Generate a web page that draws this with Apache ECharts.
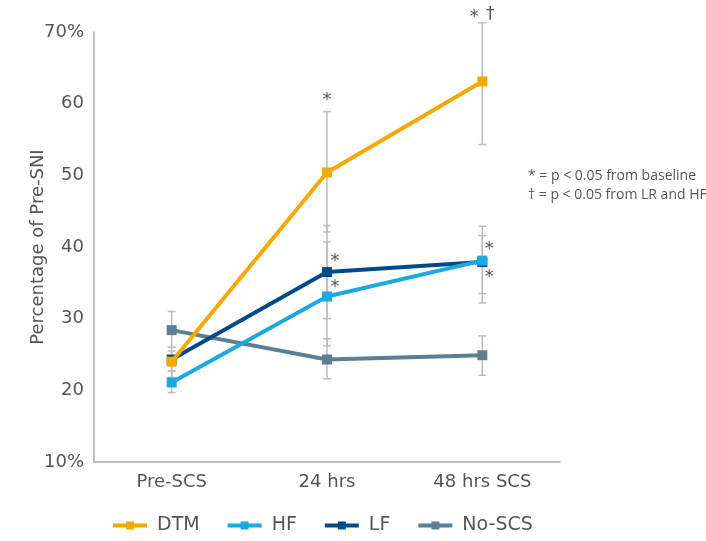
<!DOCTYPE html>
<html>
<head>
<meta charset="utf-8">
<title>Percentage of Pre-SNI</title>
<script src="https://cdn.jsdelivr.net/npm/echarts@6/dist/echarts.min.js"></script>
<style>
  html, body { margin: 0; padding: 0; background: #fff; }
  #chart { width: 706px; height: 541px; }
</style>
</head>
<body>
<div id="chart"></div>
<script>
// categories along the x axis
const categories = ['Pre-SCS', '24 hrs', '48 hrs SCS'];

// mean values (% of pre-SNI)
const dtm = [24.0, 50.4, 63.1];
const hf = [21.1, 33.1, 38.1];
const lf = [24.3, 36.5, 37.9];
const noScs = [28.4, 24.3, 24.9];

// error bar ends [low, high]
const dtmErr = [[21.8, 25.5], [42.1, 58.9], [54.3, 71.3]];
const hfErr = [[19.7, 22.7], [26.2, 40.7], [33.5, 42.9]];
const lfErr = [[22.7, 26.0], [30.0, 43.0], [32.2, 41.6]];
const noScsErr = [[26.0, 31.0], [21.6, 27.2], [22.1, 27.6]];

// significance marks: [category index, value, symbol]
const marks = [
  [1, 60.4, '*'],
  [1, 38.0, '*'],
  [1, 34.4, '*'],
  [2, 72.0, '*'],
  [2, 72.4, '†'],
  [2, 39.7, '*'],
  [2, 35.8, '*']
];
const markShift = [0, 8, 8, -8, 8, 7, 7];

const yTicks = [10, 20, 30, 40, 50, 60, 70];

const FONT = '"DejaVu Sans", sans-serif';
const TEXT = '#555';

const chart = echarts.init(document.getElementById('chart'));

const legendOrder = ['DTM', 'HF', 'LF', 'No-SCS'];
// drawn back to front, DTM on top
const seriesDefs = [
  { name: 'No-SCS', data: noScs, err: noScsErr, color: '#5b7f95' },
  { name: 'LF', data: lf, err: lfErr, color: '#004b87' },
  { name: 'HF', data: hf, err: hfErr, color: '#1aa9e1' },
  { name: 'DTM', data: dtm, err: dtmErr, color: '#f5a800' }
];

function errorBars(params, api) {
  const cat = api.value(0);
  const top = api.coord([cat, api.value(2)]);
  const bottom = api.coord([cat, api.value(1)]);
  const half = 4;
  const style = { stroke: '#bdbdbd', lineWidth: 1.5 };
  return {
    type: 'group',
    children: [
      { type: 'line', shape: { x1: top[0], y1: top[1], x2: bottom[0], y2: bottom[1] }, style },
      { type: 'line', shape: { x1: top[0] - half, y1: top[1], x2: top[0] + half, y2: top[1] }, style },
      { type: 'line', shape: { x1: bottom[0] - half, y1: bottom[1], x2: bottom[0] + half, y2: bottom[1] }, style }
    ]
  };
}

const series = [];
seriesDefs.forEach(s => {
  series.push({
    type: 'custom',
    name: s.name + '-err',
    renderItem: errorBars,
    data: s.err.map((e, i) => [i, e[0], e[1]]),
    z: 1,
    silent: true
  });
});
seriesDefs.forEach((s, k) => {
  series.push({
    type: 'line',
    name: s.name,
    data: s.data,
    symbol: 'rect',
    symbolSize: 10,
    color: s.color,
    lineStyle: { width: 4, color: s.color },
    itemStyle: { color: s.color },
    z: 3 + k * 0.1
  });
});
series.push({
  type: 'custom',
  name: 'marks',
  silent: true,
  z: 5,
  data: marks,
  renderItem(params, api) {
    const p = api.coord([api.value(0), api.value(1)]);
    return {
      type: 'text',
      x: p[0] + markShift[params.dataIndex],
      y: p[1],
      style: {
        text: marks[params.dataIndex][2],
        fill: TEXT,
        font: '18px ' + FONT,
        align: 'center',
        verticalAlign: 'middle'
      }
    };
  }
});

chart.setOption({
  animation: false,
  textStyle: { fontFamily: FONT },
  grid: { left: 94, right: 146, top: 32, bottom: 79 },
  legend: {
    data: legendOrder,
    left: 106,
    top: 511,
    itemWidth: 34,
    itemHeight: 10,
    itemGap: 26,
    lineStyle: { width: 4 },
    textStyle: { color: TEXT, fontSize: 19, padding: [0, 0, 0, 5] }
  },
  xAxis: {
    type: 'category',
    data: categories,
    axisLine: { lineStyle: { color: '#aaa', width: 1.5 } },
    axisTick: { alignWithLabel: true, inside: true, length: 9, lineStyle: { color: '#aaa', width: 1.5 } },
    axisLabel: { color: TEXT, fontSize: 18, margin: 11 }
  },
  yAxis: {
    type: 'value',
    min: yTicks[0],
    max: yTicks[yTicks.length - 1],
    interval: 10,
    name: 'Percentage of Pre-SNI',
    nameLocation: 'middle',
    nameGap: 47,
    nameMoveOverlap: false,
    nameTextStyle: { color: TEXT, fontSize: 18 },
    axisLine: { show: true, lineStyle: { color: '#aaa', width: 1.5 } },
    axisTick: { show: false },
    splitLine: { show: false },
    axisLabel: {
      color: TEXT,
      fontSize: 18,
      margin: 10,
      formatter: v => (v === yTicks[0] || v === yTicks[yTicks.length - 1]) ? v + '%' : String(v)
    }
  },
  graphic: [
    {
      type: 'text',
      left: 528,
      top: 167,
      style: {
        text: '* = p < 0.05 from baseline\n† = p < 0.05 from LR and HF',
        fill: TEXT,
        font: '14px "Open Sans", sans-serif',
        lineHeight: 19
      }
    }
  ],
  series
});
</script>
</body>
</html>
